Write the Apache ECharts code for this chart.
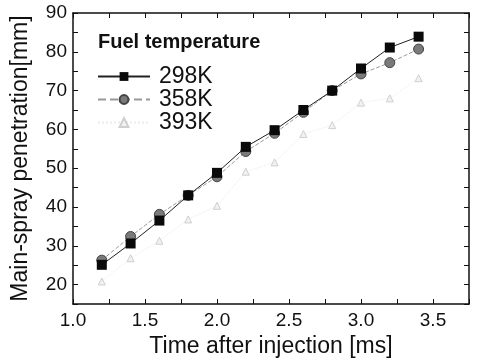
<!DOCTYPE html>
<html>
<head>
<meta charset="utf-8">
<script src="https://cdn.jsdelivr.net/npm/echarts@6/dist/echarts.min.js"></script>
<style>
  html, body { margin: 0; padding: 0; background: #fff; }
  #chart { width: 478px; height: 360px; }
</style>
</head>
<body>
<div id="chart"></div>
<script>
// time after injection [ms]
const times = [1.2, 1.4, 1.6, 1.8, 2.0, 2.2, 2.4, 2.6, 2.8, 3.0, 3.2, 3.4];
// main-spray penetration [mm]
const pen298 = [25.1, 30.6, 36.5, 43.0, 48.8, 55.5, 59.8, 65.0, 70.0, 75.7, 81.1, 83.9];
const pen358 = [26.3, 32.4, 38.1, 43.0, 47.8, 54.3, 59.0, 64.4, 70.0, 74.3, 77.2, 80.7];
const pen393 = [20.8, 26.8, 31.3, 36.8, 40.3, 49.1, 51.5, 58.8, 61.1, 66.9, 68.0, 73.2];
const seriesNames = ['298K', '358K', '393K'];

const FONT = 'Liberation Sans, Arial, sans-serif';

const pairs = (ys) => times.map((t, i) => [t, ys[i]]);

const chart = echarts.init(document.getElementById('chart'));

const frameAxis = {
  axisLine: { show: true, lineStyle: { color: '#111', width: 1.5 } },
  axisTick: { show: true, inside: true, length: 5, lineStyle: { color: '#111' } },
  splitLine: { show: false },
};

chart.setOption({
  animation: false,
  backgroundColor: '#fff',
  grid: { left: 73, right: 9, top: 13, bottom: 56, outerBoundsMode: 'none', containLabel: false },
  title: {
    text: 'Fuel temperature',
    left: 93,
    top: 27,
    textStyle: { fontFamily: FONT, fontSize: 20, fontWeight: 'bold', color: '#111' },
  },
  legend: {
    data: seriesNames,
    orient: 'vertical',
    left: 92,
    top: 60,
    itemWidth: 52,
    itemHeight: 11,
    itemGap: 0,
    textStyle: { fontFamily: FONT, fontSize: 23, lineHeight: 21, color: '#111', padding: [0, 0, 0, 4] },
  },
  xAxis: [
    {
      ...frameAxis,
      type: 'value',
      min: 1.0,
      max: 3.75,
      interval: 0.25,
      name: 'Time after injection [ms]',
      nameLocation: 'middle',
      nameGap: 31,
      nameTextStyle: { fontFamily: FONT, fontSize: 23, color: '#111' },
      axisLabel: {
        fontFamily: FONT, fontSize: 19, color: '#111', margin: 7,
        formatter: (v) => (Math.abs(v * 2 - Math.round(v * 2)) < 1e-6 ? v.toFixed(1) : ''),
      },
    },
    {
      ...frameAxis,
      type: 'value',
      position: 'top',
      min: 1.0,
      max: 3.75,
      interval: 0.25,
      axisLabel: { show: false },
    },
  ],
  yAxis: [
    {
      ...frameAxis,
      type: 'value',
      min: 15,
      max: 90,
      interval: 5,
      name: 'Main-spray penetration[mm]',
      nameLocation: 'middle',
      nameGap: 41,
      nameTextStyle: { fontFamily: FONT, fontSize: 23, color: '#111' },
      axisLabel: {
        fontFamily: FONT, fontSize: 19, color: '#111', margin: 6,
        formatter: (v) => (v % 10 === 0 ? String(v) : ''),
      },
    },
    {
      ...frameAxis,
      type: 'value',
      position: 'right',
      min: 15,
      max: 90,
      interval: 5,
      axisLabel: { show: false },
    },
  ],
  series: [
    {
      name: seriesNames[0],
      type: 'line',
      data: pairs(pen298),
      symbol: 'rect',
      symbolSize: 10,
      itemStyle: { color: '#0a0a0a' },
      lineStyle: { color: '#222', width: 1 },
      z: 4,
    },
    {
      name: seriesNames[1],
      type: 'line',
      data: pairs(pen358),
      symbol: 'circle',
      symbolSize: 10,
      itemStyle: { color: '#7a7a7a', borderColor: '#444', borderWidth: 1 },
      lineStyle: { color: '#999', width: 1, type: 'dashed' },
      z: 3,
    },
    {
      name: seriesNames[2],
      type: 'line',
      data: pairs(pen393),
      symbol: 'triangle',
      symbolSize: 7,
      itemStyle: { color: '#f2f2f2', borderColor: '#cfcfcf', borderWidth: 1 },
      lineStyle: { color: '#ececec', width: 1, type: 'dotted' },
      z: 2,
    },
  ],
});
</script>
</body>
</html>
